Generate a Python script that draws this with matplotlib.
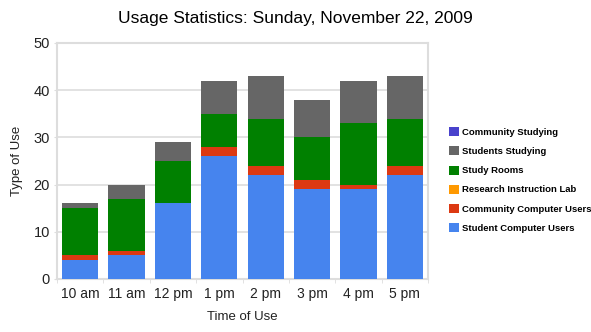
import numpy as np
import matplotlib.pyplot as plt

plt.rcParams['font.family'] = ['Liberation Sans', 'DejaVu Sans']

times = ["10 am", "11 am", "12 pm", "1 pm", "2 pm", "3 pm", "4 pm", "5 pm"]
student_computer = [4, 5, 16, 26, 22, 19, 19, 22]
community_computer = [1, 1, 0, 2, 2, 2, 1, 2]
research_lab = [0, 0, 0, 0, 0, 0, 0, 0]
study_rooms = [10, 11, 9, 7, 10, 9, 13, 10]
students_studying = [1, 3, 4, 7, 9, 8, 9, 9]
community_studying = [0, 0, 0, 0, 0, 0, 0, 0]

series = [
    ("Student Computer Users", student_computer, "#4684ee"),
    ("Community Computer Users", community_computer, "#dc3912"),
    ("Research Instruction Lab", research_lab, "#ff9900"),
    ("Study Rooms", study_rooms, "#008000"),
    ("Students Studying", students_studying, "#666666"),
    ("Community Studying", community_studying, "#4942cc"),
]

fig = plt.figure(figsize=(5.91, 3.32), dpi=100)
ax = fig.add_axes([57 / 591, 1 - 279 / 332, 371 / 591, 236 / 332])

x = np.arange(len(times))
bottom = np.zeros(len(times))
handles = []
for name, vals, color in series:
    vals = np.array(vals, dtype=float)
    h = ax.bar(x, vals, bottom=bottom, width=0.78, color=color, label=name, zorder=3)
    handles.append(h)
    bottom += vals

ax.set_xlim(-0.5, len(times) - 0.5)
ax.set_ylim(0, 50)
ax.set_yticks([0, 10, 20, 30, 40, 50])
ax.set_xticks(x)
ax.set_xticklabels(times)
ax.set_xticks(np.arange(len(times) + 1) - 0.5, minor=True)
ax.grid(axis="y", color="#dddddd", linewidth=1.2, zorder=0)
for s in ax.spines.values():
    s.set_color("#dddddd")
    s.set_linewidth(1.5)
ax.tick_params(axis="x", which="major", length=0, labelsize=10, colors="#222222", pad=6)
ax.tick_params(axis="x", which="minor", length=3, color="#dddddd")
ax.tick_params(axis="y", length=2, color="#dddddd", labelsize=10.5, labelcolor="#222222", pad=3)

ax.set_xlabel("Time of Use", fontsize=9.5, color="#222222", labelpad=7)
ax.set_ylabel("Type of Use", fontsize=9.5, color="#222222", labelpad=8)
fig.text(295 / 591, 1 - 19 / 332, "Usage Statistics: Sunday, November 22, 2009",
         ha="center", va="center", fontsize=12.5, color="#000000")

leg = fig.legend(handles[::-1], [s[0] for s in series][::-1],
                 loc="center left", bbox_to_anchor=(440 / 591, 1 - 180 / 332),
                 frameon=False, handlelength=1.1, handleheight=1.1,
                 handletextpad=0.35, labelspacing=1.0, prop={"weight": "bold", "size": 6.8})

fig.savefig("out.png", dpi=100)
